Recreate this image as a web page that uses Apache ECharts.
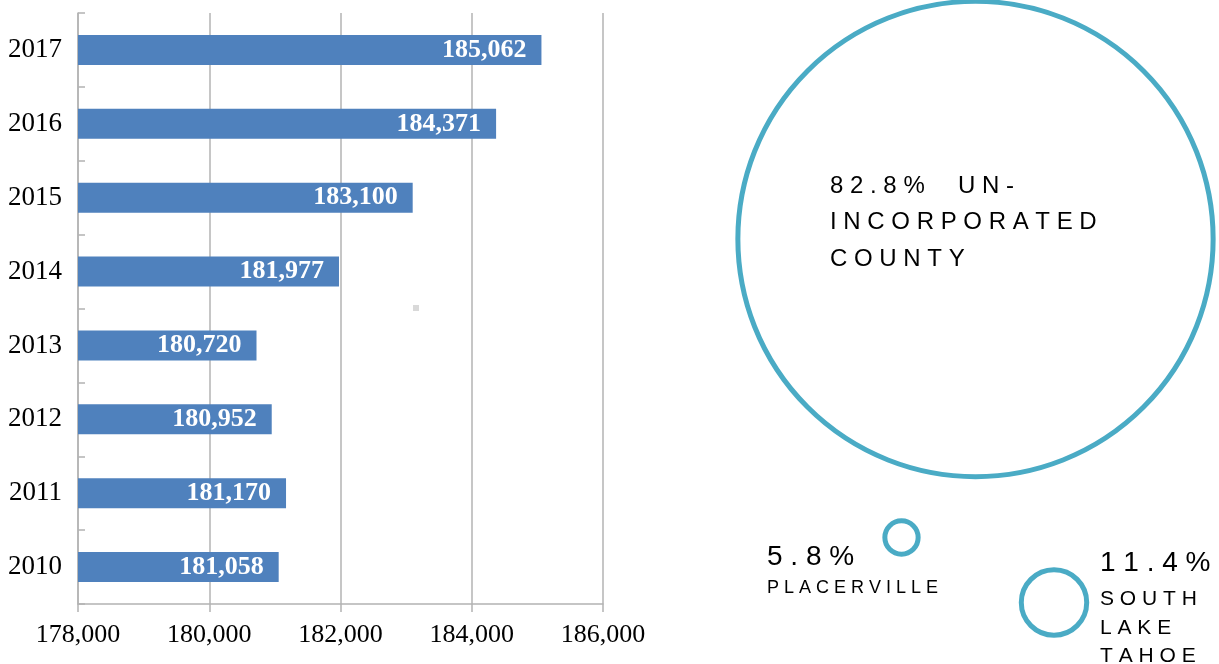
<!DOCTYPE html>
<html>
<head>
<meta charset="utf-8">
<script src="https://cdn.jsdelivr.net/npm/echarts@6/dist/echarts.min.js"></script>
<style>
  html, body { margin: 0; padding: 0; background: #fff; }
  #chart { width: 1219px; height: 664px; }
</style>
</head>
<body>
<div id="chart"></div>
<script>
// Population by year
const years = ['2010', '2011', '2012', '2013', '2014', '2015', '2016', '2017'];
const population = [181058, 181170, 180952, 180720, 181977, 183100, 184371, 185062];
const xTicks = [178000, 180000, 182000, 184000, 186000];

// Share of population by area
const areaNames = ['UN-\nINCORPORATED\nCOUNTY', 'PLACERVILLE', 'SOUTH\nLAKE\nTAHOE'];
const areaShares = [82.8, 5.8, 11.4];

// bubble layout (pixel centres on the overlay grid)
const bubbleCentres = [[975.5, 239], [901.5, 537.5], [1054, 602.5]];
const PX_PER_PCT = 5.74; // bubble diameter per percentage point

const fmt = v => v.toLocaleString('en-US');
// widen tracking by putting a space between letters
const track = (s, wordGap) => s.split('\n').map(line =>
  line.split(' ').map(w => w.split('').join(' ')).join(wordGap || '   ')
).join('\n');

const chart = echarts.init(document.getElementById('chart'), null, { renderer: 'canvas' });

const serif = '"Liberation Serif", "Times New Roman", serif';
const sans = '"Liberation Sans", Arial, sans-serif';
const gridGrey = '#b3b3b3';

const bubbleData = areaShares.map((s, i) => ({
  value: bubbleCentres[i],
  symbolSize: s * PX_PER_PCT
}));

chart.setOption({
  animation: false,
  backgroundColor: '#ffffff',
  grid: [
    { left: 78, right: 616, top: 13, bottom: 60, containLabel: false },
    { left: 0, right: 0, top: 0, bottom: 0, containLabel: false }
  ],
  xAxis: [
    {
      type: 'value', gridIndex: 0,
      min: xTicks[0], max: xTicks[xTicks.length - 1], interval: 2000,
      axisLine: { show: true, lineStyle: { color: gridGrey, width: 1.5 } },
      axisTick: { show: true, length: 8, lineStyle: { color: gridGrey, width: 1.5 } },
      splitLine: { show: true, lineStyle: { color: gridGrey, width: 1.5 } },
      axisLabel: { color: '#000', fontFamily: serif, fontSize: 26, margin: 18, formatter: fmt }
    },
    { type: 'value', gridIndex: 1, min: 0, max: 1219, show: false }
  ],
  yAxis: [
    {
      type: 'category', gridIndex: 0, data: years,
      axisLine: { show: true, lineStyle: { color: gridGrey, width: 1.5 } },
      axisTick: { show: true, inside: true, length: 7, lineStyle: { color: gridGrey, width: 1.5 } },
      splitLine: { show: false },
      axisLabel: { color: '#000', fontFamily: serif, fontSize: 27, margin: 16 }
    },
    { type: 'value', gridIndex: 1, min: 0, max: 664, inverse: true, show: false }
  ],
  series: [
    {
      type: 'bar', xAxisIndex: 0, yAxisIndex: 0,
      data: population, barWidth: 30,
      itemStyle: { color: '#4f81bd' },
      label: {
        show: true, position: 'insideRight', distance: 15,
        color: '#ffffff', fontFamily: serif, fontWeight: 'bold', fontSize: 26,
        formatter: p => fmt(p.value)
      }
    },
    {
      type: 'scatter', xAxisIndex: 1, yAxisIndex: 1,
      data: bubbleData, symbol: 'circle',
      itemStyle: { color: 'rgba(0,0,0,0)', borderColor: '#4aabc5', borderWidth: 5, opacity: 1 },
      silent: true
    }
  ],
  graphic: [
    // stray marker in the plot area
    { type: 'rect', shape: { x: 413, y: 305, width: 6, height: 6 }, style: { fill: '#d9d9d9' } },
    {
      type: 'text', left: 830, top: 168,
      style: {
        text: track(areaShares[0].toFixed(1) + '% ' + areaNames[0], '     '),
        font: '24px ' + sans, fill: '#000', lineHeight: 36.5
      }
    },
    {
      type: 'text', left: 767, top: 543,
      style: { text: track(areaShares[1].toFixed(1) + '%'), font: '28px ' + sans, fill: '#000' }
    },
    {
      type: 'text', left: 767, top: 579,
      style: { text: track(areaNames[1]), font: '18px ' + sans, fill: '#000' }
    },
    {
      type: 'text', left: 1100, top: 549,
      style: { text: track(areaShares[2].toFixed(1) + '%'), font: '28px ' + sans, fill: '#000' }
    },
    {
      type: 'text', left: 1100, top: 585,
      style: { text: track(areaNames[2]), font: '21px ' + sans, fill: '#000', lineHeight: 28.5 }
    }
  ]
});
</script>
</body>
</html>
